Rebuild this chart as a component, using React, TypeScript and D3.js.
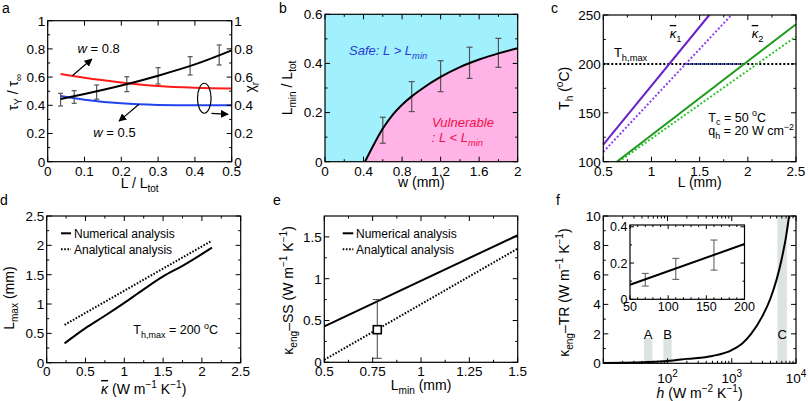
import React from "react";
import * as d3 from "d3";

const FONT = "'Liberation Sans', Arial, Helvetica, sans-serif";
const TICK_FS = 13.5;
const TITLE_FS = 14;

// ---------------- Panel a ----------------
const aErrX = [0.035, 0.072, 0.133, 0.215, 0.3, 0.387, 0.466];
const aErrLo = [0.395, 0.414, 0.443, 0.497, 0.551, 0.615, 0.686];
const aErrHi = [0.485, 0.504, 0.544, 0.603, 0.667, 0.745, 0.828];
const aCurveX = [0.035, 0.1, 0.2, 0.3, 0.4, 0.5];
const aChi = [0.445, 0.48, 0.54, 0.61, 0.69, 0.79];
const aTauW08 = [0.622, 0.595, 0.562, 0.537, 0.525, 0.52];
const aTauW05 = [0.466, 0.44, 0.414, 0.403, 0.4, 0.4];
const aXTicks = [0, 0.1, 0.2, 0.3, 0.4, 0.5];
const aYTicks = [0, 0.2, 0.4, 0.6, 0.8, 1];
const aYMinor = [0.1, 0.3, 0.5, 0.7, 0.9];

// ---------------- Panel b ----------------
const bCurveW = [0.415, 0.5, 0.6, 0.7, 0.8, 0.9, 1.0, 1.2, 1.4, 1.6, 1.8, 2.0];
const bCurveL = [0, 0.065, 0.135, 0.19, 0.232, 0.266, 0.295, 0.345, 0.385, 0.416, 0.441, 0.462];
const bErrW = [0.6, 0.9, 1.2, 1.5, 1.8];
const bErrLo = [0.075, 0.204, 0.285, 0.339, 0.384];
const bErrHi = [0.181, 0.326, 0.411, 0.466, 0.502];
const bXTicks = [0, 0.4, 0.8, 1.2, 1.6, 2];
const bXMinor = [0.2, 0.6, 1.0, 1.4, 1.8];
const bYTicks = [0, 0.2, 0.4, 0.6];
const bYMinor = [0.1, 0.3, 0.5];

// ---------------- Panel c ----------------
const cK1SolidL = [0.5, 1.6];
const cK1SolidT = [117.5, 250];
const cK1DotL = [0.5, 1.83];
const cK1DotT = [110, 250];
const cK2SolidL = [0.64, 2.5];
const cK2SolidT = [100, 240.5];
const cK2DotL = [0.66, 2.5];
const cK2DotT = [100, 228];
const cThMax = 200;
const cXTicks = [0.5, 1, 1.5, 2, 2.5];
const cXMinor = [0.75, 1.25, 1.75, 2.25];
const cYTicks = [100, 150, 200, 250];
const cYMinor = [125, 175, 225];

// ---------------- Panel d ----------------
const dKappa = [0.23, 0.5, 0.75, 1.0, 1.25, 1.5, 1.75, 2.13];
const dNumerical = [0.33, 0.59, 0.8, 1.02, 1.25, 1.47, 1.65, 1.96];
const dAnaKappa = [0.23, 2.13];
const dAnalytical = [0.645, 2.08];
const dTicks = [0, 0.5, 1, 1.5, 2, 2.5];
const dMinor = [0.25, 0.75, 1.25, 1.75, 2.25];

// ---------------- Panel e ----------------
const eLmin = [0.5, 1.5];
const eNumerical = [0.43, 1.52];
const eAnalytical = [0.03, 1.36];
const ePointL = [0.774];
const ePointK = [0.39];
const ePointLo = [0.048];
const ePointHi = [0.75];
const eXTicks = [0.5, 0.75, 1, 1.25, 1.5];
const eXMinor = [0.625, 0.875, 1.125, 1.375];
const eYTicks = [0, 0.5, 1, 1.5];
const eYMinor = [0.25, 0.75, 1.25];

// ---------------- Panel f ----------------
const fH = [10, 20, 50, 100, 200, 500, 1000, 1500, 2000, 3000, 4000, 5000, 6000, 7000, 7800];
const fK = [0.015, 0.03, 0.08, 0.155, 0.3, 0.5, 0.9, 1.4, 2.0, 3.2, 4.4, 5.7, 7.1, 8.6, 10];
const fBandNames = ["A", "B", "C"];
const fBandLo = [43, 86, 5130];
const fBandHi = [58, 116, 7200];
const fBandTop = [1.72, 1.72, 10];
const fXTicks = [10, 100, 1000, 10000];
const fYTicks = [0, 2, 4, 6, 8, 10];
const fYMinor = [1, 3, 5, 7, 9];
const fInsetH = [50, 200];
const fInsetK = [0.08, 0.305];
const fErrH = [70, 110, 160];
const fErrLo = [0.073, 0.11, 0.161];
const fErrHi = [0.143, 0.226, 0.327];
const fInsetXTicks = [50, 100, 150, 200];
const fInsetXMinor = [60, 70, 80, 90, 110, 120, 130, 140, 160, 170, 180, 190];
const fInsetYTicks = [0, 0.2, 0.4];
const fInsetYMinor = [0.1, 0.3];

type Part = [string, string?];

function R({ x = 0, y = 0, fs = TITLE_FS, parts, anchor = "start", transform, fill = "#000", italic = false }: any) {
  let off = 0;
  const kids = (parts as Part[]).map((p, i) => {
    const t = p[0];
    const m = p[1] || "";
    let target = 0;
    let size = fs;
    if (m.includes("sub")) {
      target = fs * 0.3;
      size = fs * 0.72;
    } else if (m.includes("sup")) {
      target = -fs * 0.42;
      size = fs * 0.72;
    }
    const dy = target - off;
    off = target;
    const it = m.includes("it") || italic;
    const bar = m.includes("bar");
    return (
      <tspan key={i} dy={dy} fontSize={size} fontStyle={it ? "italic" : "normal"}
        style={bar ? { textDecoration: "overline" } : undefined}>
        {t}
      </tspan>
    );
  });
  return (
    <text x={x} y={y} fontSize={fs} textAnchor={anchor} transform={transform} fill={fill} fontFamily={FONT}>
      {kids}
    </text>
  );
}

function Frame({ box, xs, ys, xMaj, xMin = [], yMaj, yMin = [], xLab, yLab, yLabR, xLabY, fs = TICK_FS, ML = 5, mL = 2.5 }: any) {
  const lines: any[] = [];
  let k = 0;
  const L = (x1: number, y1: number, x2: number, y2: number) =>
    lines.push(<line key={k++} x1={x1} y1={y1} x2={x2} y2={y2} />);
  xMaj.forEach((v: number) => {
    const x = xs(v);
    L(x, box.y1, x, box.y1 - ML);
    L(x, box.y0, x, box.y0 + ML);
  });
  xMin.forEach((v: number) => {
    const x = xs(v);
    L(x, box.y1, x, box.y1 - mL);
    L(x, box.y0, x, box.y0 + mL);
  });
  yMaj.forEach((v: number) => {
    const y = ys(v);
    L(box.x0, y, box.x0 + ML, y);
    L(box.x1, y, box.x1 - ML, y);
  });
  yMin.forEach((v: number) => {
    const y = ys(v);
    L(box.x0, y, box.x0 + mL, y);
    L(box.x1, y, box.x1 - mL, y);
  });
  return (
    <g fontFamily={FONT}>
      <g stroke="#000" strokeWidth={1}>{lines}</g>
      <rect x={box.x0} y={box.y0} width={box.x1 - box.x0} height={box.y1 - box.y0} fill="none" stroke="#000" strokeWidth={1.2} />
      {xLab &&
        xMaj.map((v: number, i: number) =>
          xLab[i] == null ? null : (
            <text key={"xl" + i} x={xs(v)} y={xLabY} textAnchor="middle" fontSize={fs}>
              {xLab[i]}
            </text>
          )
        )}
      {yLab &&
        yMaj.map((v: number, i: number) => (
          <text key={"yl" + i} x={box.x0 - 2.5} y={ys(v) + fs * 0.36} textAnchor="end" fontSize={fs}>
            {yLab[i]}
          </text>
        ))}
      {yLabR &&
        yMaj.map((v: number, i: number) => (
          <text key={"yr" + i} x={box.x1 + 2.5} y={ys(v) + fs * 0.36} textAnchor="start" fontSize={fs}>
            {yLabR[i]}
          </text>
        ))}
    </g>
  );
}

function ErrBars({ xs, ys, X, Lo, Hi, cap = 3, color = "#555", w = 1.2 }: any) {
  return (
    <g stroke={color} strokeWidth={w}>
      {X.map((v: number, i: number) => (
        <g key={i}>
          <line x1={xs(v)} x2={xs(v)} y1={ys(Lo[i])} y2={ys(Hi[i])} />
          <line x1={xs(v) - cap} x2={xs(v) + cap} y1={ys(Lo[i])} y2={ys(Lo[i])} />
          <line x1={xs(v) - cap} x2={xs(v) + cap} y1={ys(Hi[i])} y2={ys(Hi[i])} />
        </g>
      ))}
    </g>
  );
}

const fmt = (v: number) => String(v);
const zip = (a: number[], b: number[]) => a.map((v, i) => [v, b[i]] as [number, number]);

export default function App() {
  // ---- a
  const A = { x0: 47.7, x1: 231.7, y0: 20.7, y1: 161.7 };
  const ax = d3.scaleLinear().domain([0, 0.5]).range([A.x0, A.x1]);
  const ay = d3.scaleLinear().domain([0, 1]).range([A.y1, A.y0]);
  const aLine = d3.line<[number, number]>().x((d) => ax(d[0])).y((d) => ay(d[1])).curve(d3.curveMonotoneX);

  // ---- b
  const B = { x0: 325, x1: 517.7, y0: 14.3, y1: 161.7 };
  const bx = d3.scaleLinear().domain([0, 2]).range([B.x0, B.x1]);
  const by = d3.scaleLinear().domain([0, 0.6]).range([B.y1, B.y0]);
  const bPts = zip(bCurveW, bCurveL);
  const bLine = d3.line<[number, number]>().x((d) => bx(d[0])).y((d) => by(d[1])).curve(d3.curveMonotoneX);
  const bArea = d3
    .area<[number, number]>()
    .x((d) => bx(d[0]))
    .y0(by(0))
    .y1((d) => by(d[1]))
    .curve(d3.curveMonotoneX);

  // ---- c
  const C = { x0: 603.3, x1: 796, y0: 15, y1: 161.7 };
  const cx = d3.scaleLinear().domain([0.5, 2.5]).range([C.x0, C.x1]);
  const cy = d3.scaleLinear().domain([100, 250]).range([C.y1, C.y0]);
  const cLine = d3.line<[number, number]>().x((d) => cx(d[0])).y((d) => cy(d[1]));
  const crossAt = (Ls: number[], Ts: number[], T: number) => Ls[0] + ((T - Ts[0]) * (Ls[1] - Ls[0])) / (Ts[1] - Ts[0]);
  const blueFrom = crossAt(cK1DotL, cK1DotT, cThMax);
  const blueTo = crossAt(cK2SolidL, cK2SolidT, cThMax);

  // ---- d
  const D = { x0: 46.7, x1: 240.7, y0: 216, y1: 362.7 };
  const dx = d3.scaleLinear().domain([0, 2.5]).range([D.x0, D.x1]);
  const dy = d3.scaleLinear().domain([0, 2.5]).range([D.y1, D.y0]);
  const dLine = d3.line<[number, number]>().x((d) => dx(d[0])).y((d) => dy(d[1])).curve(d3.curveMonotoneX);

  // ---- e
  const E = { x0: 324.3, x1: 517.7, y0: 216, y1: 362.3 };
  const ex = d3.scaleLinear().domain([0.5, 1.5]).range([E.x0, E.x1]);
  const ey = d3.scaleLinear().domain([0, 1.75]).range([E.y1, E.y0]);
  const eLine = d3.line<[number, number]>().x((d) => ex(d[0])).y((d) => ey(d[1]));

  // ---- f
  const F = { x0: 603.3, x1: 796, y0: 216, y1: 363.3 };
  const fx = d3.scaleLog().domain([10, 10000]).range([F.x0, F.x1]);
  const fy = d3.scaleLinear().domain([0, 10]).range([F.y1, F.y0]);
  const fLine = d3
    .line<[number, number]>()
    .x((d) => fx(d[0]))
    .y((d) => fy(d[1]))
    .curve(d3.curveMonotoneX);
  const fMinor: number[] = [];
  [10, 100, 1000].forEach((dec) => {
    for (let m = 2; m <= 9; m++) fMinor.push(dec * m);
  });
  const I = { x0: 630, x1: 744.5, y0: 225, y1: 299.3 };
  const ix = d3.scaleLinear().domain([50, 200]).range([I.x0, I.x1]);
  const iy = d3.scaleLinear().domain([0, 0.41]).range([I.y1, I.y0]);
  const iLine = d3.line<[number, number]>().x((d) => ix(d[0])).y((d) => iy(d[1]));

  const K = "\u03BA";

  return (
    <div style={{ position: "absolute", left: 0, top: 0 }}>
      <svg width={808} height={401} viewBox="0 0 808 401" fontFamily={FONT} style={{ display: "block", background: "#fff" }}>
        <defs>
          <marker id="arrowhead" viewBox="0 0 10 10" refX="9" refY="5" markerWidth="8" markerHeight="8" markerUnits="userSpaceOnUse" orient="auto">
            <path d="M0,0 L10,5 L0,10 z" fill="#000" />
          </marker>
        </defs>

        {/* ============ Panel a ============ */}
        <text x={2} y={13} fontSize={14}>a</text>
        <path d={aLine(zip(aCurveX, aTauW08)) || ""} fill="none" stroke="#ff1a1a" strokeWidth={2} />
        <path d={aLine(zip(aCurveX, aTauW05)) || ""} fill="none" stroke="#2244ee" strokeWidth={2} />
        <ErrBars xs={ax} ys={ay} X={aErrX} Lo={aErrLo} Hi={aErrHi} cap={2.5} />
        <path d={aLine(zip(aCurveX, aChi)) || ""} fill="none" stroke="#000" strokeWidth={2} />
        <Frame box={A} xs={ax} ys={ay} xMaj={aXTicks} yMaj={aYTicks} yMin={aYMinor}
          xLab={aXTicks.map(fmt)} yLab={aYTicks.map(fmt)} yLabR={aYTicks.map(fmt)} xLabY={175.5} />
        <line x1={ax(0.067)} y1={ay(0.61)} x2={ax(0.12)} y2={ay(0.728)} stroke="#000" strokeWidth={1.2} markerEnd="url(#arrowhead)" />
        <line x1={ax(0.248)} y1={ay(0.407)} x2={ax(0.194)} y2={ay(0.288)} stroke="#000" strokeWidth={1.2} markerEnd="url(#arrowhead)" />
        <ellipse cx={ax(0.4255)} cy={ay(0.45)} rx={6.8} ry={15} fill="none" stroke="#000" strokeWidth={1.2} />
        <line x1={ax(0.445)} y1={ay(0.343)} x2={ax(0.49)} y2={ay(0.336)} stroke="#000" strokeWidth={1.2} markerEnd="url(#arrowhead)" />
        <R x={ax(0.081)} y={ay(0.77)} fs={13} parts={[["w", "it"], [" = 0.8"]]} />
        <R x={ax(0.124)} y={ay(0.177)} fs={13} parts={[["w", "it"], [" = 0.5"]]} />
        <R x={ax(0.25)} y={188} anchor="middle" parts={[["L / L"], ["tot", "sub"]]} />
        <R transform={`translate(18,${ay(0.5) + 1}) rotate(-90)`} anchor="middle" parts={[["\u03C4"], ["Y", "sub"], [" / \u03C4"], ["\u221E", "sub"]]} />
        <R transform={`translate(255,${ay(0.5) - 4}) rotate(-90)`} anchor="middle" parts={[["\u03C7"], ["r", "sub"]]} />

        {/* ============ Panel b ============ */}
        <text x={279} y={13} fontSize={14}>b</text>
        <rect x={B.x0} y={B.y0} width={B.x1 - B.x0} height={B.y1 - B.y0} fill="#a0f0fe" />
        <path d={bArea(bPts) || ""} fill="#ffb3e6" />
        <ErrBars xs={bx} ys={by} X={bErrW} Lo={bErrLo} Hi={bErrHi} cap={3} />
        <path d={bLine(bPts) || ""} fill="none" stroke="#000" strokeWidth={2} />
        <Frame box={B} xs={bx} ys={by} xMaj={bXTicks} xMin={bXMinor} yMaj={bYTicks} yMin={bYMinor}
          xLab={bXTicks.map(fmt)} yLab={bYTicks.map(fmt)} xLabY={175.5} />
        <R x={bx(0.25)} y={by(0.434)} fs={13} fill="#2a3ad6" italic parts={[["Safe: L > L"], ["min", "sub"]]} />
        <R x={bx(1.11)} y={by(0.142)} fs={13} fill="#f0104a" italic parts={[["Vulnerable"]]} />
        <R x={bx(1.107)} y={by(0.081)} fs={13} fill="#f0104a" italic parts={[[": L < L"], ["min", "sub"]]} />
        <R x={bx(1)} y={187} anchor="middle" parts={[["w (mm)"]]} />
        <R transform={`translate(292,${by(0.3)}) rotate(-90)`} anchor="middle" parts={[["L"], ["min", "sub"], [" / L"], ["tot", "sub"]]} />

        {/* ============ Panel c ============ */}
        <text x={551} y={13} fontSize={14}>c</text>
        <line x1={cx(0.5)} x2={cx(2.5)} y1={cy(cThMax)} y2={cy(cThMax)} stroke="#000" strokeWidth={2} strokeDasharray="2 2" />
        <line x1={cx(blueFrom)} x2={cx(blueTo)} y1={cy(cThMax)} y2={cy(cThMax)} stroke="#2a3ab8" strokeWidth={2} strokeDasharray="2 2" />
        <path d={cLine(zip(cK1DotL, cK1DotT)) || ""} fill="none" stroke="#9040f0" strokeWidth={2} strokeDasharray="2 2" />
        <path d={cLine(zip(cK1SolidL, cK1SolidT)) || ""} fill="none" stroke="#6a22c8" strokeWidth={2} />
        <path d={cLine(zip(cK2DotL, cK2DotT)) || ""} fill="none" stroke="#33c433" strokeWidth={2} strokeDasharray="2 2" />
        <path d={cLine(zip(cK2SolidL, cK2SolidT)) || ""} fill="none" stroke="#1e9a1e" strokeWidth={2} />
        <Frame box={C} xs={cx} ys={cy} xMaj={cXTicks} xMin={cXMinor} yMaj={cYTicks} yMin={cYMinor}
          xLab={cXTicks.map(fmt)} yLab={cYTicks.map(fmt)} xLabY={175.5} />
        <R x={cx(0.61)} y={cy(207)} fs={13} parts={[["T"], ["h,max", "sub"]]} />
        <R x={cx(1.19)} y={cy(226.5)} fs={13} parts={[[K, "it bar"], ["1", "sub"]]} />
        <R x={cx(2.04)} y={cy(226.5)} fs={13} parts={[[K, "it bar"], ["2", "sub"]]} />
        <R x={cx(1.59)} y={cy(140.9)} fs={12.5} parts={[["T"], ["c", "sub"], [" = 50 "], ["o", "sup"], ["C"]]} />
        <R x={cx(1.59)} y={cy(127.3)} fs={12.5} parts={[["q"], ["h", "sub"], [" = 20 W cm"], ["\u22122", "sup"]]} />
        <R x={cx(1.5)} y={187} anchor="middle" parts={[["L (mm)"]]} />
        <R transform={`translate(569,${cy(175)}) rotate(-90)`} anchor="middle" parts={[["T"], ["h", "sub"], [" ("], ["o", "sup"], ["C)"]]} />

        {/* ============ Panel d ============ */}
        <text x={0} y={205} fontSize={14}>d</text>
        <path d={dLine(zip(dAnaKappa, dAnalytical)) || ""} fill="none" stroke="#000" strokeWidth={2} strokeDasharray="1.6 1.6" />
        <path d={dLine(zip(dKappa, dNumerical)) || ""} fill="none" stroke="#000" strokeWidth={2} />
        <Frame box={D} xs={dx} ys={dy} xMaj={dTicks} xMin={dMinor} yMaj={dTicks} yMin={dMinor}
          xLab={dTicks.map(fmt)} yLab={dTicks.map(fmt)} xLabY={376} />
        <line x1={61} x2={71} y1={233.3} y2={233.3} stroke="#000" strokeWidth={2} />
        <text x={74} y={237.5} fontSize={12}>Numerical analysis</text>
        <line x1={61} x2={71} y1={249.3} y2={249.3} stroke="#000" strokeWidth={2} strokeDasharray="1.6 1.6" />
        <text x={74} y={253.5} fontSize={12}>Analytical analysis</text>
        <R x={dx(1.116)} y={dy(0.49)} fs={12.5} parts={[["T"], ["h,max", "sub"], [" = 200 "], ["o", "sup"], ["C"]]} />
        <R x={dx(1.25)} y={394} anchor="middle" parts={[[K, "it bar"], [" (W m"], ["\u22121", "sup"], [" K"], ["\u22121", "sup"], [")"]]} />
        <R transform={`translate(14,${dy(1.1)}) rotate(-90)`} anchor="middle" parts={[["L"], ["max", "sub"], [" (mm)"]]} />

        {/* ============ Panel e ============ */}
        <text x={273} y={205} fontSize={14}>e</text>
        <path d={eLine(zip(eLmin, eAnalytical)) || ""} fill="none" stroke="#000" strokeWidth={2} strokeDasharray="1.6 1.6" />
        <path d={eLine(zip(eLmin, eNumerical)) || ""} fill="none" stroke="#000" strokeWidth={2} />
        <ErrBars xs={ex} ys={ey} X={ePointL} Lo={ePointLo} Hi={ePointHi} cap={4.5} color="#444" w={1} />
        {ePointL.map((v, i) => (
          <rect key={i} x={ex(v) - 4} y={ey(ePointK[i]) - 4} width={8} height={8} fill="#fff" stroke="#000" strokeWidth={1.6} />
        ))}
        <Frame box={E} xs={ex} ys={ey} xMaj={eXTicks} xMin={eXMinor} yMaj={eYTicks} yMin={eYMinor}
          xLab={eXTicks.map(fmt)} yLab={eYTicks.map(fmt)} xLabY={376} />
        <line x1={342.7} x2={353.3} y1={233.3} y2={233.3} stroke="#000" strokeWidth={2} />
        <text x={356} y={237.5} fontSize={12}>Numerical analysis</text>
        <line x1={342.7} x2={353.3} y1={249.3} y2={249.3} stroke="#000" strokeWidth={2} strokeDasharray="1.6 1.6" />
        <text x={356} y={253.5} fontSize={12}>Analytical analysis</text>
        <R x={ex(1)} y={390} anchor="middle" parts={[["L"], ["min", "sub"], [" (mm)"]]} />
        <R transform={`translate(293,${ey(0.86)}) rotate(-90)`} anchor="middle"
          parts={[[K], ["eng", "sub"], ["\u2013SS (W m"], ["\u22121", "sup"], [" K"], ["\u22121", "sup"], [")"]]} />

        {/* ============ Panel f ============ */}
        <text x={556} y={205} fontSize={14}>f</text>
        {fBandNames.map((n, i) => (
          <rect key={n} x={fx(fBandLo[i])} y={fy(fBandTop[i])} width={fx(fBandHi[i]) - fx(fBandLo[i])} height={fy(0) - fy(fBandTop[i])} fill="#dde3e0" />
        ))}
        {fBandNames.map((n, i) => (
          <text key={"t" + n} x={fx(Math.sqrt(fBandLo[i] * fBandHi[i]))} y={338.5} fontSize={13} textAnchor="middle">{n}</text>
        ))}
        <path d={fLine(zip(fH, fK)) || ""} fill="none" stroke="#000" strokeWidth={2} />
        <Frame box={F} xs={fx} ys={fy} xMaj={fXTicks} xMin={fMinor} yMaj={fYTicks} yMin={fYMinor}
          yLab={fYTicks.map(fmt)} />
        {fXTicks.slice(1).map((v) => (
          <text key={v} x={fx(v)} y={383} fontSize={TICK_FS} textAnchor="middle">
            <tspan>10</tspan>
            <tspan dy={-6} fontSize={10}>{Math.round(Math.log10(v))}</tspan>
          </text>
        ))}
        <R x={fx(316)} y={397.5} anchor="middle" parts={[["h", "it"], [" (W m"], ["\u22122", "sup"], [" K"], ["\u22121", "sup"], [")"]]} />
        <R transform={`translate(569,${fy(4.8)}) rotate(-90)`} anchor="middle"
          parts={[[K], ["eng", "sub"], ["\u2013TR (W m"], ["\u22121", "sup"], [" K"], ["\u22121", "sup"], [")"]]} />
        {/* inset */}
        <rect x={I.x0} y={I.y0} width={I.x1 - I.x0} height={I.y1 - I.y0} fill="#fff" />
        <ErrBars xs={ix} ys={iy} X={fErrH} Lo={fErrLo} Hi={fErrHi} cap={3.5} color="#555" w={1} />
        <path d={iLine(zip(fInsetH, fInsetK)) || ""} fill="none" stroke="#000" strokeWidth={2} />
        <Frame box={I} xs={ix} ys={iy} xMaj={fInsetXTicks} xMin={fInsetXMinor} yMaj={fInsetYTicks} yMin={fInsetYMinor}
          xLab={fInsetXTicks.map(fmt)} yLab={fInsetYTicks.map(fmt)} xLabY={311} fs={12.5} ML={4} mL={2} />
      </svg>
    </div>
  );
}
